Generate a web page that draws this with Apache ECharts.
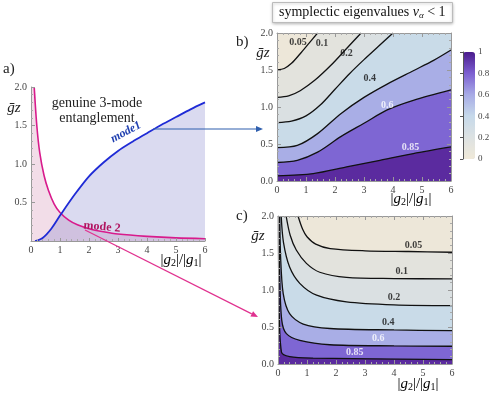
<!DOCTYPE html>
<html>
<head>
<meta charset="utf-8">
<script src="https://cdn.jsdelivr.net/npm/echarts@6.0.0/dist/echarts.min.js"></script>
<style>html,body{margin:0;background:#fff}#main{width:495px;height:396px}</style>
</head>
<body>
<div id="main"></div>
<script>
// panel a: the two mode curves
const mode1 = [[0.14,0],[0.4,0.04],[0.7,0.16],[1.0,0.33],[1.5,0.6],[2.0,0.84],[2.5,1.02],[3.0,1.17],[3.5,1.29],[4.0,1.40],[4.5,1.51],[5.0,1.61],[5.5,1.71],[6.0,1.8]];
const mode2 = [[0.11,2.0],[0.2,1.5],[0.3,1.15],[0.45,0.85],[0.6,0.66],[0.8,0.48],[1.0,0.37],[1.3,0.27],[1.6,0.21],[2.0,0.16],[2.5,0.12],[3.0,0.09],[4.0,0.06],[5.0,0.04],[6.0,0.03]];

// panel b contour lines (mode 1), levels 0.05 0.1 0.2 0.4 0.6 0.85
const b005 = [[0,1.50],[0.25,1.52],[0.5,1.59],[0.8,1.72],[1.1,1.86],[1.4,2.0]];
const b01 = [[0,1.13],[0.4,1.15],[0.8,1.22],[1.3,1.36],[1.85,1.56],[2.4,1.79],[2.9,2.0]];
const b02 = [[0,0.79],[0.5,0.81],[1.0,0.88],[1.5,1.03],[2.0,1.24],[2.5,1.45],[3.0,1.64],[3.5,1.82],[4.0,2.0]];
const b04 = [[0,0.45],[0.7,0.48],[1.4,0.64],[2.2,0.91],[3.0,1.13],[3.8,1.31],[4.7,1.49],[5.4,1.63],[6,1.77]];
const b06 = [[0,0.25],[0.7,0.28],[1.4,0.39],[2.2,0.6],[3.0,0.78],[3.8,0.96],[4.7,1.09],[6,1.23]];
const b085 = [[0,0.07],[1.25,0.1],[2.4,0.19],[3.55,0.28],[4.7,0.37],[6,0.46]];
const bLabels = [[0.72,1.87,'0.05'],[1.55,1.86,'0.1'],[2.4,1.72,'0.2'],[3.2,1.38,'0.4'],[3.8,1.02,'0.6'],[4.6,0.46,'0.85']];

// panel c contour lines (mode 2)
const c005 = [[0.69,2.0],[0.85,1.82],[1.0,1.72],[1.3,1.62],[1.8,1.56],[3.0,1.53],[4.5,1.52],[6,1.51]];
const c01 = [[0.28,2.0],[0.42,1.74],[0.63,1.54],[0.98,1.36],[1.44,1.24],[2.36,1.17],[4,1.155],[6,1.15]];
const c02 = [[0.11,2.0],[0.19,1.64],[0.4,1.31],[0.75,1.09],[1.33,0.93],[2.36,0.84],[4,0.8],[6,0.79]];
const c04 = [[0.06,2.0],[0.09,1.45],[0.18,0.95],[0.4,0.68],[0.87,0.54],[1.79,0.48],[4,0.46],[6,0.45]];
const c06 = [[0.035,2.0],[0.06,1.2],[0.13,0.59],[0.29,0.41],[0.75,0.32],[1.79,0.26],[4,0.245],[6,0.24]];
const c085 = [[0.015,2.0],[0.035,0.9],[0.12,0.16],[0.4,0.1],[1.21,0.08],[6,0.06]];
const cLabels = [[4.67,1.6,'0.05'],[4.27,1.25,'0.1'],[4.0,0.9,'0.2'],[3.8,0.56,'0.4'],[3.46,0.34,'0.6'],[2.65,0.15,'0.85']];

const serif = '"Liberation Serif", "DejaVu Serif", serif';
const bandColors = ['#ede7d9','#e3e3dd','#dae0e2','#c9dbe8','#a9aee6','#7e66d3','#5b2b9f'];
const ramp = ['#f0e9d8','#dde2e2','#c6d9ea','#a7abe6','#7c5fd1','#4b1c8d'];

function xAx(grid, pos, labels) {
    return {
        type: 'value', gridIndex: grid, position: pos, min: 0, max: 6, interval: 1, z: 10,
        axisLine: {show: true, onZero: false, lineStyle: {color: '#999'}},
        axisTick: {show: true, inside: true, length: 4, lineStyle: {color: '#999'}},
        minorTick: {show: true, splitNumber: 5, length: 2, lineStyle: {color: '#aaa'}},
        splitLine: {show: false},
        axisLabel: {show: labels, color: '#444', fontFamily: serif, fontSize: 10, margin: 4}
    };
}
function yAx(grid, pos, labels) {
    return {
        type: 'value', gridIndex: grid, position: pos, min: 0, max: 2, interval: 0.5, z: 10,
        axisLine: {show: true, onZero: false, lineStyle: {color: '#999'}},
        axisTick: {show: true, inside: true, length: 4, lineStyle: {color: '#999'}},
        minorTick: {show: true, splitNumber: 5, length: 2, lineStyle: {color: '#aaa'}},
        splitLine: {show: false},
        axisLabel: {show: labels, color: '#444', fontFamily: serif, fontSize: 10, margin: 4,
            formatter: v => v.toFixed(1)}
    };
}

let series = [];

// panel a
series.push({type: 'line', xAxisIndex: 0, yAxisIndex: 0, data: [[0, 2]].concat(mode2),
    symbol: 'none', smooth: 0.3, lineStyle: {width: 0}, silent: true,
    areaStyle: {color: 'rgba(205,120,165,0.25)', opacity: 1}});
series.push({type: 'line', xAxisIndex: 0, yAxisIndex: 0, data: mode1,
    symbol: 'none', smooth: 0.3, lineStyle: {width: 0}, silent: true,
    areaStyle: {color: 'rgba(120,120,200,0.27)', opacity: 1}});
series.push({type: 'line', xAxisIndex: 0, yAxisIndex: 0, data: mode2,
    symbol: 'none', smooth: 0.3, lineStyle: {width: 1.6, color: '#d81b8c'}});
series.push({type: 'line', xAxisIndex: 0, yAxisIndex: 0, data: mode1,
    symbol: 'none', smooth: 0.3, lineStyle: {width: 1.8, color: '#1f2bd6'}});

function contour(xi, yi, lines, labels) {
    lines.forEach((ln, i) => {
        let fill = ln.slice();
        if (fill[0][0] > 0) fill.unshift([0, 2]);
        if (fill[fill.length - 1][0] < 6) fill.push([6, 2]);
        series.push({type: 'line', xAxisIndex: xi, yAxisIndex: yi, data: fill,
            symbol: 'none', smooth: 0.3, silent: true, z: 2,
            lineStyle: {width: 0}, areaStyle: {color: bandColors[i + 1], opacity: 1}});
    });
    lines.forEach(ln => {
        series.push({type: 'line', xAxisIndex: xi, yAxisIndex: yi, data: ln,
            symbol: 'none', smooth: 0.3, silent: true, z: 3,
            lineStyle: {width: 1.3, color: '#111'}});
    });
    series.push({type: 'scatter', xAxisIndex: xi, yAxisIndex: yi, symbolSize: 1, silent: true, z: 6,
        itemStyle: {color: 'rgba(0,0,0,0)'},
        labelLayout: {hideOverlap: false},
        data: labels.map(l => ({value: [l[0], l[1]], name: l[2],
            label: {color: parseFloat(l[2]) >= 0.6 ? '#fff' : '#111'}})),
        label: {show: true, position: 'inside', formatter: '{b}', fontFamily: serif,
            fontWeight: 'bold', fontSize: 10}});
}
contour(1, 1, [b005, b01, b02, b04, b06, b085], bLabels);
contour(3, 3, [c005, c01, c02, c04, c06, c085], cLabels);

// dummy series for the colour bar
series.push({type: 'scatter', xAxisIndex: 5, yAxisIndex: 5, data: []});
const dummyIndex = series.length - 1;

const gTitle = {n: {fontFamily: serif, fontSize: 15, color: '#222'},
    g: {fontFamily: serif, fontSize: 15, fontStyle: 'italic', color: '#222'},
    s: {fontFamily: serif, fontSize: 10, color: '#222', padding: [7, 0, 0, 0]}};
const gLabel = '{n||}{g|g}{s|2}{n||/|}{g|g}{s|1}{n||}';

function arrow(x1, y1, x2, y2, color) {
    const a = Math.atan2(y2 - y1, x2 - x1), L = 7, W = 3;
    const bx = x2 - L * Math.cos(a), by = y2 - L * Math.sin(a);
    return [
        {type: 'line', shape: {x1: x1, y1: y1, x2: bx, y2: by}, style: {stroke: color, lineWidth: 1.2}, z: 20},
        {type: 'polygon', shape: {points: [[x2, y2],
            [bx - W * Math.sin(a), by + W * Math.cos(a)],
            [bx + W * Math.sin(a), by - W * Math.cos(a)]]}, style: {fill: color}, z: 20}
    ];
}

let option = {
    animation: false,
    backgroundColor: '#fff',
    title: {
        left: 272, top: 2, padding: [3, 7],
        text: '{a|symplectic eigenvalues }{v|ν}{s|α}{a| < 1}',
        borderColor: '#bbb', borderWidth: 1, backgroundColor: '#fff',
        shadowColor: 'rgba(0,0,0,0.25)', shadowBlur: 3, shadowOffsetY: 1,
        textStyle: {fontWeight: 'normal', rich: {
            a: {fontFamily: serif, fontSize: 14, fontWeight: 'normal', color: '#111'},
            v: {fontFamily: serif, fontSize: 14, fontWeight: 'normal', fontStyle: 'italic', color: '#111'},
            s: {fontFamily: serif, fontSize: 9, fontWeight: 'normal', fontStyle: 'italic', color: '#111', padding: [6, 0, 0, 0]}
        }}
    },
    grid: [
        {left: 31, top: 87, width: 174, height: 154},
        {left: 277, top: 33, width: 174, height: 148, show: true, borderWidth: 0, backgroundColor: bandColors[0]},
        {left: 278, top: 216, width: 174, height: 148, show: true, borderWidth: 0, backgroundColor: bandColors[0]},
        {left: 463, top: 52, width: 12, height: 107}
    ],
    xAxis: [
        Object.assign(xAx(0, 'bottom', true), {axisTick: {show: true, inside: true, length: 3, lineStyle: {color: '#999'}}}),
        xAx(1, 'bottom', true), xAx(1, 'top', false),
        xAx(2, 'bottom', true), xAx(2, 'top', false),
        {type: 'value', gridIndex: 3, min: 0, max: 1, show: false}
    ],
    yAxis: [
        Object.assign(yAx(0, 'left', true), {axisLabel: {show: true, showMinLabel: false, color: '#444',
            fontFamily: serif, fontSize: 10, margin: 4, formatter: v => v.toFixed(1)}}),
        yAx(1, 'left', true), yAx(1, 'right', false),
        yAx(2, 'left', true), yAx(2, 'right', false),
        {type: 'value', gridIndex: 3, position: 'right', min: 0, max: 1, interval: 0.2, z: 10,
            axisLine: {show: true, lineStyle: {color: '#555'}},
            axisTick: {show: true, inside: true, length: 3, lineStyle: {color: '#555'}},
            splitLine: {show: false},
            axisLabel: {color: '#444', fontFamily: serif, fontSize: 9, margin: 3,
                formatter: v => (v === 0 || v === 1) ? String(v) : v.toFixed(1)}}
    ],
    visualMap: {
        type: 'continuous', min: 0, max: 1, seriesIndex: dummyIndex,
        left: 463, top: 52, itemWidth: 12, itemHeight: 107, padding: 0,
        calculable: false, text: ['', ''], textGap: 0,
        inRange: {color: ramp}
    },
    graphic: [
        {type: 'text', left: 3, top: 62, style: {text: 'a)', font: '15px ' + serif, fill: '#222'}},
        {type: 'text', left: 236, top: 35, style: {text: 'b)', font: '15px ' + serif, fill: '#222'}},
        {type: 'text', left: 236, top: 209, style: {text: 'c)', font: '15px ' + serif, fill: '#222'}},
        {type: 'text', x: 14, y: 108, style: {text: 'ḡz', font: 'italic 15px ' + serif, fill: '#222', align: 'center', verticalAlign: 'middle'}},
        {type: 'text', x: 263, y: 53, style: {text: 'ḡz', font: 'italic 15px ' + serif, fill: '#222', align: 'center', verticalAlign: 'middle'}},
        {type: 'text', x: 258, y: 236, style: {text: 'ḡz', font: 'italic 15px ' + serif, fill: '#222', align: 'center', verticalAlign: 'middle'}},
        {type: 'text', x: 97, y: 111, style: {text: 'genuine 3-mode\nentanglement', font: '14px ' + serif,
            fill: '#222', align: 'center', verticalAlign: 'middle', lineHeight: 15}},
        {type: 'text', x: 126, y: 132, rotation: 28 * Math.PI / 180, z: 15,
            style: {text: 'mode1', font: 'italic bold 12px ' + serif, fill: '#1f3fb0', align: 'center', verticalAlign: 'middle'}},
        {type: 'text', x: 102, y: 227, rotation: -5 * Math.PI / 180, z: 15,
            style: {text: 'mode 2', font: 'bold 12px ' + serif, fill: '#b0145f', align: 'center', verticalAlign: 'middle'}},
        {type: 'text', x: 181, y: 260, style: {text: gLabel, rich: gTitle, align: 'center', verticalAlign: 'middle'}},
        {type: 'text', x: 411, y: 199, style: {text: gLabel, rich: gTitle, align: 'center', verticalAlign: 'middle'}},
        {type: 'text', x: 418, y: 384, style: {text: gLabel, rich: gTitle, align: 'center', verticalAlign: 'middle'}}
    ].concat(arrow(153, 129, 263, 129, '#2f5fae'), arrow(85, 230, 258, 317, '#e0318f')),
    series: series
};

let myChart = echarts.init(document.getElementById('main'));
myChart.setOption(option);
</script>
</body>
</html>
